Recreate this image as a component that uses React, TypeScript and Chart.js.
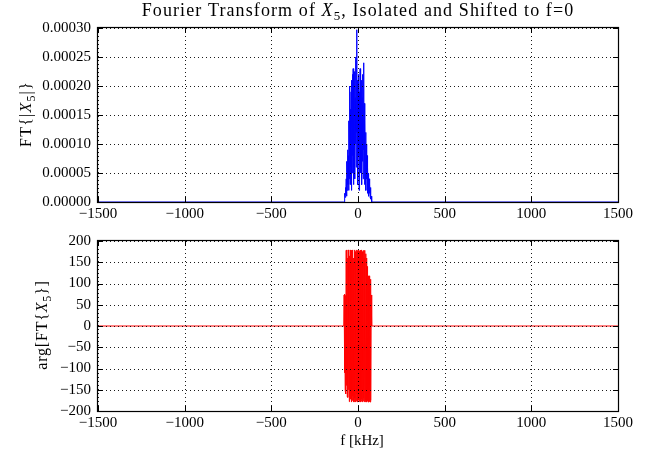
import React, { useEffect, useRef } from "react";
import { Chart, registerables } from "chart.js";
Chart.register(...registerables);

const FONT = '"Liberation Serif", "DejaVu Serif", serif';

// frequency samples (kHz); zero padding outside the isolated band
const freqs = [
  -1500, -82,
  -80, -78, -76, -74, -72, -70, -68, -66, -64, -62,
  -60, -58, -56, -54, -52, -50, -48, -46, -44, -42,
  -40, -38, -36, -34, -32, -30, -28, -26, -24, -22,
  -20, -18, -16, -14, -12, -10, -8, -6, -4, -2,
  0, 2, 4, 6, 8, 10, 12, 14, 16, 18,
  20, 22, 24, 26, 28, 30, 32, 34, 36, 38,
  40, 42, 44, 46, 48, 50, 52, 54, 56, 58,
  60, 62, 64, 66, 68, 70, 72, 74, 76, 78,
  80,
  82, 1500,
];

// |FT{X5}| in units of 1e-5
const magnitudeE5 = [
  0, 0,
  0, 0.5, 1.5, 0.8, 2.5, 1.2, 4, 1, 7, 2,
  9, 3, 8, 2, 14, 4, 20, 3, 16, 6,
  19, 2, 21, 5, 22, 8, 23, 3, 20, 7,
  22.5, 4, 18, 10, 25, 6, 29.7, 12, 21, 3,
  17, 8, 22, 2, 19, 9, 23, 5, 15, 10,
  21, 3, 18, 7, 22, 4, 24, 9, 17, 3,
  14, 6, 12, 2, 10, 4, 8, 1.5, 6, 2,
  5, 1, 4, 1.5, 3, 0.8, 2.5, 0.5, 1, 0,
  0,
  0, 0,
];

// arg[FT{X5}] in degrees
const phaseDeg = [
  0, 0,
  73, -110, 75, -150, 72, -160, 178, -140, 179, -167,
  160, -168, 179, -150, 175, -178, 165, -172, 179, -160,
  178, -179, 170, -175, 179, -165, 150, -179, 160, -178,
  179, -170, 175, -179, 168, -176, 179, -160, 177, -179,
  155, -174, 179, -178, 176, -165, 178, -179, 170, -177,
  179, -172, 175, -179, 165, -176, 178, -170, 160, -179,
  178, -178, 170, -175, 160, -179, 140, -176, 118, -178,
  118, -179, 118, -178, 118, -179, 110, -175, 73, 0,
  0,
  0, 0,
];

const xTicks = [-1500, -1000, -500, 0, 500, 1000, 1500];
const magTicks = [0, 0.00005, 0.0001, 0.00015, 0.0002, 0.00025, 0.0003];
const phaseTicks = [-200, -150, -100, -50, 0, 50, 100, 150, 200];

type Seg = { t: string; it?: boolean; sub?: boolean };

function drawRich(
  ctx: CanvasRenderingContext2D,
  segs: Seg[],
  x: number,
  y: number,
  size: number,
  rotate = false,
  spacing = 0
) {
  ctx.save();
  ctx.translate(x, y);
  if (rotate) ctx.rotate(-Math.PI / 2);
  (ctx as any).letterSpacing = spacing + "px";
  const fontFor = (s: Seg) => `${s.it ? "italic " : ""}${s.sub ? Math.round(size * 0.72) : size}px ${FONT}`;
  let total = 0;
  for (const s of segs) {
    ctx.font = fontFor(s);
    total += ctx.measureText(s.t).width;
  }
  let cx = -total / 2;
  ctx.textBaseline = "alphabetic";
  ctx.textAlign = "left";
  ctx.fillStyle = "#000";
  for (const s of segs) {
    ctx.font = fontFor(s);
    ctx.fillText(s.t, cx, s.sub ? size * 0.22 : 0);
    cx += ctx.measureText(s.t).width;
  }
  ctx.restore();
}

const minus = (v: number) => (v < 0 ? "\u2212" + Math.abs(v) : String(v));

type Texts = { segs: Seg[]; x: number; y: number; size: number; rotate?: boolean; spacing?: number }[];

function framePlugin(texts: Texts) {
  return {
    id: "frame",
    afterDatasetsDraw(chart: any) {
      const ctx: CanvasRenderingContext2D = chart.ctx;
      const { left, right, top, bottom } = chart.chartArea;
      const xs = chart.scales.x;
      const ys = chart.scales.y;
      ctx.save();
      // dotted grid
      ctx.strokeStyle = "rgba(0,0,0,0.9)";
      ctx.lineWidth = 1;
      ctx.setLineDash([1, 3]);
      for (const t of xs.ticks) {
        const px = Math.round(xs.getPixelForValue(t.value)) + 0.5;
        ctx.beginPath();
        ctx.moveTo(px, top);
        ctx.lineTo(px, bottom);
        ctx.stroke();
      }
      for (const t of ys.ticks) {
        const py = Math.round(ys.getPixelForValue(t.value)) + 0.5;
        ctx.beginPath();
        ctx.moveTo(left, py);
        ctx.lineTo(right, py);
        ctx.stroke();
      }
      ctx.setLineDash([]);
      // inward ticks on all sides
      ctx.strokeStyle = "#000";
      const L = 5;
      for (const t of xs.ticks) {
        const px = Math.round(xs.getPixelForValue(t.value)) + 0.5;
        ctx.beginPath();
        ctx.moveTo(px, bottom);
        ctx.lineTo(px, bottom - L);
        ctx.moveTo(px, top);
        ctx.lineTo(px, top + L);
        ctx.stroke();
      }
      for (const t of ys.ticks) {
        const py = Math.round(ys.getPixelForValue(t.value)) + 0.5;
        ctx.beginPath();
        ctx.moveTo(left, py);
        ctx.lineTo(left + L, py);
        ctx.moveTo(right, py);
        ctx.lineTo(right - L, py);
        ctx.stroke();
      }
      // spines
      ctx.lineWidth = 1.2;
      ctx.strokeRect(Math.round(left) - 0.5, Math.round(top) - 0.5, Math.round(right - left) + 1, Math.round(bottom - top) + 1);
      ctx.restore();
      for (const tx of texts) drawRich(ctx, tx.segs, tx.x, tx.y, tx.size, tx.rotate, tx.spacing || 0);
    },
  };
}

function makeChart(
  canvas: HTMLCanvasElement,
  values: number[],
  color: string,
  yMin: number,
  yMax: number,
  yTicks: number[],
  yFmt: (v: number) => string,
  padTop: number,
  padBottom: number,
  texts: Texts
) {
  const points = freqs.map((f, i) => ({ x: f, y: values[i] }));
  return new Chart(canvas, {
    type: "line",
    data: {
      datasets: [
        {
          data: points,
          borderColor: color,
          backgroundColor: color,
          borderWidth: 1,
          pointRadius: 0,
          tension: 0,
          fill: false,
        },
      ],
    },
    options: {
      animation: false,
      responsive: false,
      maintainAspectRatio: false,
      events: [],
      layout: { padding: { top: padTop, right: 32, bottom: padBottom, left: 0 } },
      plugins: { legend: { display: false }, tooltip: { enabled: false }, title: { display: false } },
      scales: {
        x: {
          type: "linear",
          min: -1500,
          max: 1500,
          afterBuildTicks: (s: any) => {
            s.ticks = xTicks.map((v) => ({ value: v }));
          },
          afterFit: (s: any) => {
            s.height = 23;
          },
          ticks: {
            autoSkip: false,
            maxRotation: 0,
            padding: 3,
            color: "#000",
            font: { family: FONT, size: 15 },
            callback: (v: any) => minus(Number(v)),
          },
          grid: { display: false, drawTicks: false },
          border: { display: false },
        },
        y: {
          type: "linear",
          min: yMin,
          max: yMax,
          afterBuildTicks: (s: any) => {
            s.ticks = yTicks.map((v) => ({ value: v }));
          },
          afterFit: (s: any) => {
            s.width = 98;
          },
          ticks: {
            autoSkip: false,
            padding: 7,
            color: "#000",
            font: { family: FONT, size: 15 },
            callback: (v: any) => yFmt(Number(v)),
          },
          grid: { display: false, drawTicks: false },
          border: { display: false },
        },
      },
    },
    plugins: [framePlugin(texts)],
  } as any);
}

export default function App() {
  const topRef = useRef<HTMLCanvasElement>(null);
  const botRef = useRef<HTMLCanvasElement>(null);

  useEffect(() => {
    const magValues = magnitudeE5.map((v) => v * 1e-5);
    const c1 = makeChart(
      topRef.current!,
      magValues,
      "#0000ff",
      0,
      0.0003,
      magTicks,
      (v) => v.toFixed(5),
      28,
      0,
      [
        {
          segs: [
            { t: "Fourier Transform of " },
            { t: "X", it: true },
            { t: "5", sub: true },
            { t: ", Isolated and Shifted to f=0" },
          ],
          x: 358,
          y: 16,
          size: 18,
          spacing: 1.1,
        },
        {
          segs: [{ t: "FT{|" }, { t: "X", it: true }, { t: "5", sub: true }, { t: "|}" }],
          x: 31,
          y: 114,
          size: 16,
          rotate: true,
          spacing: 1.2,
        },
      ]
    );
    const c2 = makeChart(
      botRef.current!,
      phaseDeg,
      "#ff0000",
      -200,
      200,
      phaseTicks,
      (v) => minus(v),
      11,
      25,
      [
        {
          segs: [{ t: "arg[FT{" }, { t: "X", it: true }, { t: "5", sub: true }, { t: "}]" }],
          x: 47,
          y: 100,
          size: 16,
          rotate: true,
          spacing: 0.8,
        },
        { segs: [{ t: "f [kHz]" }], x: 362, y: 220, size: 15 },
      ]
    );
    return () => {
      c1.destroy();
      c2.destroy();
    };
  }, []);

  return (
    <div style={{ position: "absolute", left: 0, top: 0, width: 650, height: 459, background: "#fff", overflow: "hidden" }}>
      <canvas ref={topRef} width={650} height={225} style={{ position: "absolute", left: 0, top: 0, width: 650, height: 225 }} />
      <canvas ref={botRef} width={650} height={234} style={{ position: "absolute", left: 0, top: 225, width: 650, height: 234 }} />
    </div>
  );
}
